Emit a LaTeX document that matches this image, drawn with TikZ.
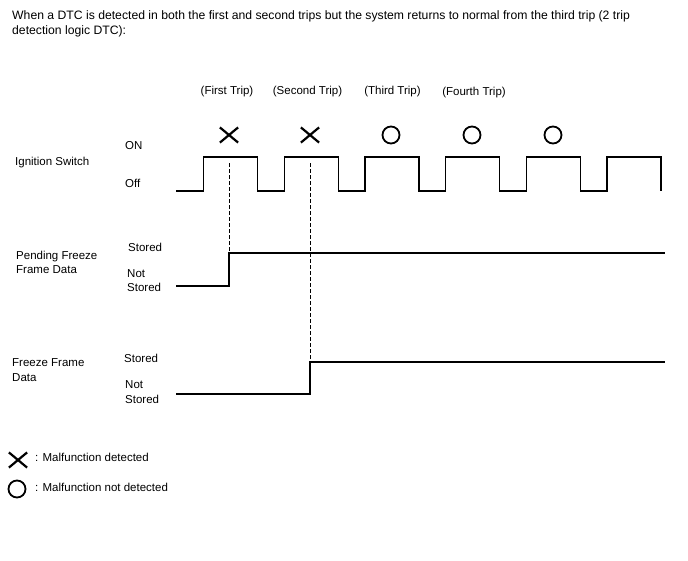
\documentclass[tikz,border=0pt]{standalone}
\usepackage{fontspec}
\setmainfont{Liberation Sans}
\usetikzlibrary{shapes.misc,positioning}
\tikzset{
  tdtext/.style={font=\fontsize{11.5}{14.5}\selectfont, inner sep=0pt, align=left},
  tdhead/.style={font=\fontsize{12.2}{15}\selectfont, inner sep=0pt, align=left},
  tdwave/.style={line width=1.2pt, line join=miter},
  tdguide/.style={dash pattern=on 3.5pt off 2.5pt, line width=0.9pt},
  tdfail/.style={cross out, draw=black, line width=2.2pt, minimum width=16pt, minimum height=13pt, inner sep=0pt},
  tdpass/.style={circle, draw=black, line width=1.8pt, minimum size=17pt, inner sep=0pt}
}

\begin{document}
\begin{tikzpicture}[x=1pt,y=-1pt]
  \useasboundingbox (0,0) rectangle (688,560);
  % heading
  \node[tdhead,anchor=north west] (head) at (12,10)
    {When a DTC is detected in both the first and second trips but the system returns to normal from the third trip (2 trip\\
     detection logic DTC):};

  % trip captions
  \node[tdtext] (trip1) at (227,92) {(First Trip)};
  \node[tdtext] (trip2) at (307.5,92) {(Second Trip)};
  \node[tdtext] (trip3) at (392.5,92) {(Third Trip)};
  \node[tdtext] (trip4) at (474,93) {(Fourth Trip)};

  % results per trip
  \node[tdfail] (x1) at (229,135) {};
  \node[tdfail] (x2) at (310,135) {};
  \node[tdpass] (o3) at (391,135) {};
  \node[tdpass] (o4) at (472,135) {};
  \node[tdpass] (o5) at (553,135) {};

  % ignition switch
  \node[tdtext,anchor=west] (ign) at (15,163) {Ignition Switch};
  \node[tdtext,anchor=west] (ignon) at (125,146) {ON};
  \node[tdtext,anchor=west] (ignoff) at (125,183) {Off};
  \draw[tdwave] (176,191)
    \foreach \t in {0,...,5} {
      -| ({203.5+80.7*\t},157) -| ({257.5+80.7*\t},191)
    };

  % pending freeze frame data
  \node[tdtext,anchor=west] (pend) at (16,262.5) {Pending Freeze\\Frame Data};
  \node[tdtext,anchor=west] (pendon) at (128,247) {Stored};
  \node[tdtext,anchor=west] (pendoff) at (127,280.5) {Not\\Stored};
  \coordinate (pstep) at (229,253);
  \draw[tdwave] (176,286) -| (pstep) -- (665,253);

  % freeze frame data
  \node[tdtext,anchor=west] (ffd) at (12,370) {Freeze Frame\\Data};
  \node[tdtext,anchor=west] (ffdon) at (124,358) {Stored};
  \node[tdtext,anchor=west] (ffdoff) at (125,392) {Not\\Stored};
  \coordinate (fstep) at (310,362);
  \draw[tdwave] (176,394) -| (fstep) -- (665,362);

  % guides from detection to storage
  \draw[tdguide] (229,163) -- (pstep);
  \draw[tdguide] (310,163) -- (fstep);

  % legend
  \node[tdfail] (kfail) at (18,460) {};
  \node[tdtext,anchor=west] (kfailtxt) at (35,457) {: Malfunction detected};
  \node[tdpass] (kpass) at (17,489) {};
  \node[tdtext,anchor=west] (kpasstxt) at (35,487) {: Malfunction not detected};
\end{tikzpicture}
\end{document}
